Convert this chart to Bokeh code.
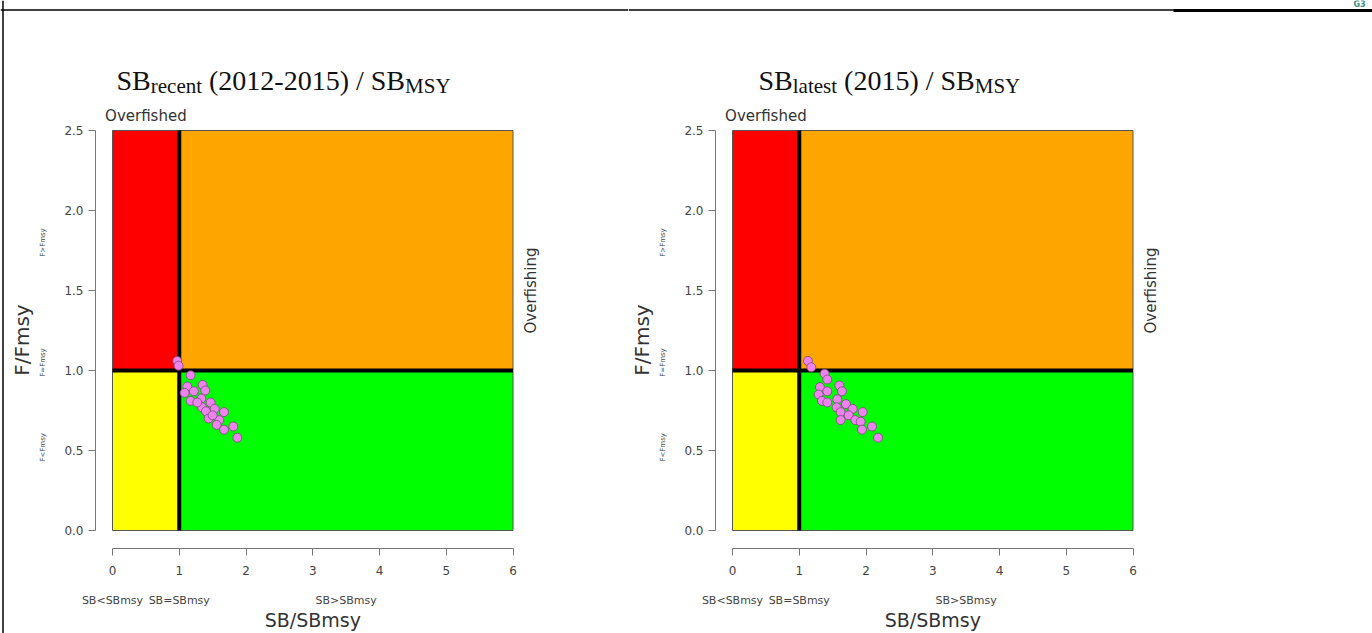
import math
from bokeh.plotting import figure
from bokeh.models import Range1d, LinearAxis, FixedTicker, ColumnDataSource, NumeralTickFormatter, Span
from bokeh.layouts import row
from bokeh.embed import file_html
from bokeh.resources import INLINE
from bokeh.core.properties import value

# ---- data ----
zone_x0 = [0, 1, 0, 1]
zone_x1 = [1, 6, 1, 6]
zone_y0 = [1, 1, 0, 0]
zone_y1 = [2.5, 2.5, 1, 1]
zone_colors = ["#FF0000", "#FFA500", "#FFFF00", "#00FF00"]

ref_line_x = [[1, 1], [0, 6]]
ref_line_y = [[0, 2.5], [1, 1]]

x_ticks = [0, 1, 2, 3, 4, 5, 6]
y_ticks = [0, 0.5, 1.0, 1.5, 2.0, 2.5]
sb_class_pos = [0, 1, 3.5]
sb_class_labels = ["SB<SBmsy", "SB=SBmsy", "SB>SBmsy"]
f_class_pos = [0.52, 1.05, 1.8]
f_class_labels = ["F<Fmsy", "F=Fmsy", "F>Fmsy"]

sb_recent = [0.97, 0.99, 1.17, 1.12, 1.22, 1.35, 1.39, 1.08, 1.17, 1.33, 1.47, 1.34,
             1.40, 1.53, 1.67, 1.44, 1.60, 1.50, 1.67, 1.81, 1.87, 1.27, 1.56]
f_recent = [1.06, 1.03, 0.97, 0.90, 0.87, 0.91, 0.875, 0.86, 0.81, 0.825, 0.80, 0.77,
            0.745, 0.76, 0.74, 0.70, 0.69, 0.72, 0.63, 0.65, 0.58, 0.80, 0.66]

sb_latest = [1.13, 1.18, 1.38, 1.42, 1.31, 1.60, 1.64, 1.42, 1.29, 1.34, 1.57, 1.42,
             1.70, 1.56, 1.80, 1.62, 1.95, 1.74, 1.62, 1.84, 1.92, 1.94, 2.09, 2.18]
f_latest = [1.06, 1.02, 0.98, 0.944, 0.896, 0.906, 0.87, 0.87, 0.85, 0.81, 0.82, 0.80,
            0.79, 0.77, 0.76, 0.74, 0.74, 0.72, 0.69, 0.69, 0.68, 0.63, 0.65, 0.58]

title_recent = [("SB", "main"), ("recent", "sub"), (" (2012-2015) / SB", "main"), ("MSY", "sub")]
title_latest = [("SB", "main"), ("latest", "sub"), (" (2015) / SB", "main"), ("MSY", "sub")]

# ---- layout constants (canvas pixels) ----
H = 633
PX_X = 66.75      # pixels per x unit
PX_Y = 160.0      # pixels per y unit
ZERO_Y = 530      # canvas y of F=0

TIMES = {"S": 556, "B": 667, " ": 250, "(": 333, ")": 333, "-": 333, "/": 278,
         "r": 333, "e": 444, "c": 444, "n": 500, "t": 278, "l": 278, "a": 444,
         "s": 389, "M": 889, "Y": 722}
for d in "0123456789":
    TIMES[d] = 500
MAIN_SIZE, SUB_SIZE = 28, 21


def text_width(s, size):
    return sum(TIMES.get(c, 500) for c in s) * size / 1000.0


def dy(py):
    return (ZERO_Y - py) / PX_Y


SANS = "DejaVu Sans"
AX_COL = "#777777"
TXT_COL = "#444444"


def make_panel(sb, f, title_parts, width, zero_x, title_start):
    def dx(px):
        return (px - zero_x) / PX_X

    p = figure(width=width, height=H,
               x_range=Range1d(dx(0), dx(width)), y_range=Range1d(dy(H), dy(0)),
               output_backend="svg", toolbar_location=None,
               x_axis_location=None, y_axis_location=None,
               min_border=0, title=None)
    p.outline_line_color = None
    p.background_fill_color = "white"
    p.border_fill_color = "white"
    p.grid.visible = False

    zones = ColumnDataSource(dict(left=zone_x0, right=zone_x1, bottom=zone_y0,
                                  top=zone_y1, color=zone_colors))
    p.quad(left="left", right="right", bottom="bottom", top="top", source=zones,
           fill_color="color", line_color="#555555", line_width=1)
    p.multi_line(xs=ref_line_x, ys=ref_line_y, line_color="black", line_width=4)
    p.scatter(sb, f, size=9, fill_color="violet", line_color="#7a4a7a", line_width=0.8)

    # x axis (detached, R style)
    xa = LinearAxis(ticker=FixedTicker(ticks=x_ticks), bounds=(0, 6), fixed_location=dy(548))
    xa.axis_line_color = AX_COL
    xa.major_tick_line_color = AX_COL
    xa.major_tick_out = 7
    xa.major_tick_in = 0
    xa.minor_tick_line_color = None
    xa.major_label_text_font = SANS
    xa.major_label_text_font_size = "12px"
    xa.major_label_text_color = TXT_COL
    xa.major_label_standoff = 10
    p.add_layout(xa, "below")

    # y axis (detached)
    ya = LinearAxis(ticker=FixedTicker(ticks=y_ticks), bounds=(0, 2.5),
                    formatter=NumeralTickFormatter(format="0.0"), fixed_location=dx(zero_x - 17))
    ya.axis_line_color = AX_COL
    ya.major_tick_line_color = AX_COL
    ya.major_tick_out = 7
    ya.major_tick_in = 0
    ya.minor_tick_line_color = None
    ya.major_label_text_font = SANS
    ya.major_label_text_font_size = "12px"
    ya.major_label_text_color = TXT_COL
    ya.major_label_standoff = 5
    p.add_layout(ya, "left")

    # status class labels
    p.text(x=sb_class_pos, y=[dy(600)] * len(sb_class_pos), text=sb_class_labels,
           text_font=value(SANS), text_font_size=value("11px"), text_color=TXT_COL,
           text_align="center", text_baseline="middle")
    p.text(x=[dx(zero_x - 70)] * len(f_class_pos), y=f_class_pos, text=f_class_labels,
           angle=math.pi / 2, text_font=value(SANS), text_font_size=value("7px"),
           text_color=TXT_COL, text_align="center", text_baseline="middle")

    # axis titles
    p.text(x=[3], y=[dy(619)], text=["SB/SBmsy"], text_font=value(SANS),
           text_font_size=value("19px"), text_color="#333333",
           text_align="center", text_baseline="middle")
    p.text(x=[dx(zero_x - 91)], y=[1.19], text=["F/Fmsy"], angle=math.pi / 2,
           text_font=value(SANS), text_font_size=value("20px"), text_color="#333333",
           text_align="center", text_baseline="middle")

    # zone annotations
    p.text(x=[0.5], y=[dy(115)], text=["Overfished"], text_font=value(SANS),
           text_font_size=value("15px"), text_color="#333333",
           text_align="center", text_baseline="middle")
    p.text(x=[dx(zero_x + 418)], y=[1.5], text=["Overfishing"], angle=math.pi / 2,
           text_font=value(SANS), text_font_size=value("15px"), text_color="#333333",
           text_align="center", text_baseline="middle")

    # title with subscripts
    xs, ys, offs, texts, sizes = [], [], [], [], []
    off = title_start
    for txt, kind in title_parts:
        size = MAIN_SIZE if kind == "main" else SUB_SIZE
        lead = len(txt) - len(txt.lstrip(" "))
        xs.append(0)
        ys.append(dy(80) if kind == "main" else dy(85))
        offs.append(off + text_width(" " * lead, size))
        texts.append(txt.strip(" "))
        sizes.append(f"{size}px")
        off += text_width(txt, size)
    tsrc = ColumnDataSource(dict(x=xs, y=ys, xo=offs, t=texts, s=sizes))
    p.text(x="x", y="y", x_offset="xo", text="t", text_font_size="s", source=tsrc,
           text_font=value("Liberation Serif"), text_color="#111111",
           text_align="left", text_baseline="alphabetic")

    # page frame line at top
    p.add_layout(Span(location=dy(9.5), dimension="width", line_color="black", line_width=1.5))
    return p, dx


left, left_dx = make_panel(sb_recent, f_recent, title_recent, 628, 112, 4)
right, right_dx = make_panel(sb_latest, f_latest, title_latest, 744, 104, 26)
left.add_layout(Span(location=left_dx(2.5), dimension="height", line_color="black", line_width=1.5))

# page decorations from the source document (thick top rule at right, header mark)
right.segment(x0=[right_dx(545)], y0=[dy(10)], x1=[right_dx(744)], y1=[dy(10)],
              line_color="black", line_width=3)
right.text(x=[right_dx(731)], y=[dy(4)], text=["G3"], text_font=value(SANS),
           text_font_size=value("8px"), text_font_style="bold", text_color="#3a8f86",
           text_align="center", text_baseline="middle")

layout = row(left, right)

open("out.html", "w").write(file_html(layout, INLINE))
